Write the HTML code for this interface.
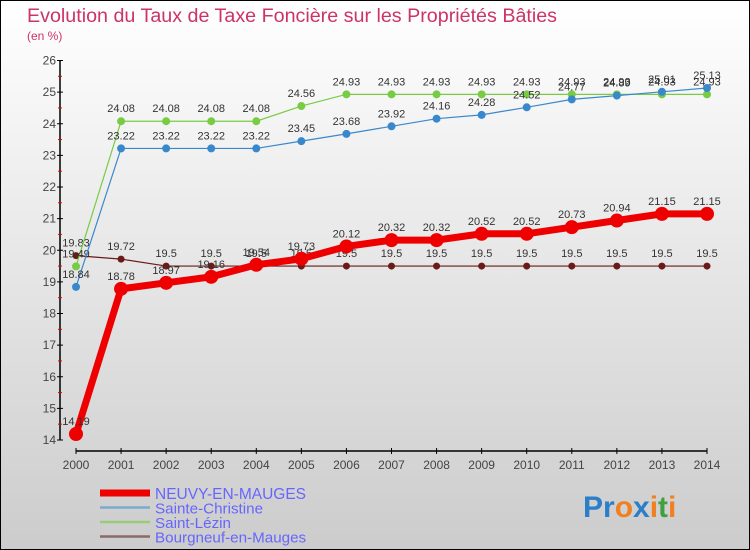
<!DOCTYPE html>
<html><head><meta charset="utf-8"><style>
body{margin:0;width:750px;height:550px;overflow:hidden;font-family:"Liberation Sans",sans-serif}
#wrap{position:absolute;left:0;top:0;width:748px;height:548px;border:1px solid #000;background:linear-gradient(#fff,#ccc)}
</style></head><body>
<div id="wrap">
<svg id="chart" width="750" height="550" style="position:absolute;left:-1px;top:-1px">
<text x="27" y="22" font-size="19.7" fill="#cc3366">Evolution du Taux de Taxe Foncière sur les Propriétés Bâties</text>
<text x="27" y="40" font-size="12" fill="#cc3366">(en %)</text>
<g id="axes"></g><g id="series"></g><g id="legend"></g>
<text x="583" y="517" font-size="30" font-weight="bold"><tspan fill="#2a7fc8">Pr</tspan><tspan fill="#f08020">o</tspan><tspan fill="#2a7fc8">x</tspan><tspan fill="#f08020">i</tspan><tspan fill="#40a040">t</tspan><tspan fill="#f08020">i</tspan></text>
</svg></div>
<script>
const years=[2000,2001,2002,2003,2004,2005,2006,2007,2008,2009,2010,2011,2012,2013,2014];
const yTicks=[14,15,16,17,18,19,20,21,22,23,24,25,26];
const neuvy=[14.19,18.78,18.97,19.16,19.54,19.73,20.12,20.32,20.32,20.52,20.52,20.73,20.94,21.15,21.15];
const christine=[18.84,23.22,23.22,23.22,23.22,23.45,23.68,23.92,24.16,24.28,24.52,24.77,24.89,25.01,25.13];
const lezin=[19.49,24.08,24.08,24.08,24.08,24.56,24.93,24.93,24.93,24.93,24.93,24.93,24.93,24.93,24.93];
const bourgneuf=[19.83,19.72,19.5,19.5,19.5,19.5,19.5,19.5,19.5,19.5,19.5,19.5,19.5,19.5,19.5];
const NS="http://www.w3.org/2000/svg";
const X=i=>76+i*(707-76)/(years.length-1);
const Y=v=>440-(v-14)*(440-60.5)/12;
function mk(t,a,p){const e=document.createElementNS(NS,t);for(const k in a)e.setAttribute(k,a[k]);p.appendChild(e);return e;}
const ax=document.getElementById('axes');
let e=mk('line',{x1:60,y1:Y(26),x2:60,y2:440,stroke:'#000','stroke-width':1.5},ax);

e=mk('line',{x1:76,y1:451,x2:707,y2:451,stroke:'#000','stroke-width':1.5},ax);

yTicks.forEach(v=>{mk('line',{x1:57,y1:Y(v),x2:63,y2:Y(v),stroke:'#000'},ax);
 if(v<26)mk('line',{x1:58,y1:Y(v+0.5),x2:62,y2:Y(v+0.5),stroke:'#e00'},ax);
 const t=mk('text',{x:56,y:Y(v)+4,'font-size':12,fill:'#444','text-anchor':'end'},ax);t.textContent=v;
 });
years.forEach((y,i)=>{mk('line',{x1:X(i),y1:448,x2:X(i),y2:454,stroke:'#000'},ax);
 const t=mk('text',{x:X(i),y:469,'font-size':12,fill:'#444','text-anchor':'middle'},ax);t.textContent=y;
 });
const sg=document.getElementById('series');
const series=[
 {name:'bourgneuf',d:bourgneuf,c:'#6b1a1a',w:1.2,r:3.5},
 {name:'saint-lezin',d:lezin,c:'#77cc44',w:1.2,r:4},
 {name:'sainte-christine',d:christine,c:'#3a88cc',w:1.2,r:4},
 {name:'neuvy',d:neuvy,c:'#ee0000',w:7,r:7}];
series.forEach(s=>{
 const g=mk('g',{},sg);
 const p=mk('polyline',{points:s.d.map((v,i)=>X(i)+','+Y(v)).join(' '),fill:'none',stroke:s.c,'stroke-width':s.w},g);
 
 s.d.forEach((v,i)=>{const c=mk('circle',{cx:X(i),cy:Y(v),r:s.r,fill:s.c},g);
  
  const t=mk('text',{x:X(i),y:Y(v)-9,'font-size':11,fill:'#333','text-anchor':'middle'},g);t.textContent=v;
  });
});
const lg=document.getElementById('legend');
[['NEUVY-EN-MAUGES','#ee0000',7],['Sainte-Christine','#7aaacc',2.5],['Saint-Lézin','#99cc77',2.5],['Bourgneuf-en-Mauges','#8a6a6a',2.5]].forEach((l,i)=>{
 const y=494+i*14.5;
 const g=mk('g',{},lg);
 mk('line',{x1:100,y1:y-1,x2:150,y2:y-1,stroke:l[1],'stroke-width':l[2]},g);
 const t=mk('text',{x:155,y:y+5,'font-size':i==0?15.5:15.2,fill:'#6666ff'},g);t.textContent=l[0];
});
</script></body></html>
